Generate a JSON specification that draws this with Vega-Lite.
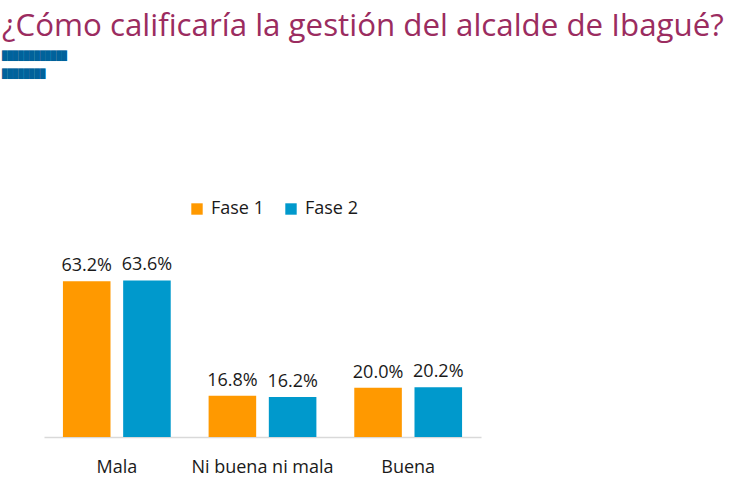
{
  "$schema": "https://vega.github.io/schema/vega-lite/v6.json",
  "width": 437,
  "height": 197,
  "autosize": {"type": "none"},
  "padding": {"left": 44, "top": 240, "right": 258, "bottom": 42},
  "background": "white",
  "view": {"stroke": null},
  "title": {
    "text": "¿Cómo calificaría la gestión del alcalde de Ibagué?",
    "subtitle": ["████████████", "████████"],
    "anchor": "start",
    "frame": "group",
    "dx": -42,
    "font": "Open Sans",
    "fontSize": 31.3,
    "fontWeight": "normal",
    "color": "#9B2C60",
    "subtitleFont": "DejaVu Sans Mono",
    "subtitleFontSize": 9,
    "subtitleColor": "#00629B",
    "subtitleLineHeight": 18,
    "subtitlePadding": 10,
    "offset": 121
  },
  "data": {
    "values": [
      {"cat": "Mala", "fase": "Fase 1", "v": 0.632},
      {"cat": "Mala", "fase": "Fase 2", "v": 0.636},
      {"cat": "Ni buena ni mala", "fase": "Fase 1", "v": 0.168},
      {"cat": "Ni buena ni mala", "fase": "Fase 2", "v": 0.162},
      {"cat": "Buena", "fase": "Fase 1", "v": 0.2},
      {"cat": "Buena", "fase": "Fase 2", "v": 0.202}
    ]
  },
  "encoding": {
    "x": {
      "field": "cat",
      "type": "nominal",
      "sort": ["Mala", "Ni buena ni mala", "Buena"],
      "scale": {"paddingInner": 0.26, "paddingOuter": 0.13},
      "axis": {
        "title": null,
        "labelAngle": 0,
        "ticks": false,
        "domainColor": "#d9d9d9",
        "domainWidth": 1.5,
        "labelFont": "Open Sans",
        "labelFontSize": 18,
        "labelColor": "#1a1a1a",
        "labelPadding": 21
      }
    },
    "xOffset": {
      "field": "fase",
      "type": "nominal",
      "scale": {"paddingInner": 0.21, "paddingOuter": 0}
    },
    "y": {
      "field": "v",
      "type": "quantitative",
      "scale": {"domain": [0, 0.8]},
      "axis": null
    }
  },
  "layer": [
    {
      "mark": {"type": "bar"},
      "encoding": {
        "color": {
          "field": "fase",
          "type": "nominal",
          "scale": {"domain": ["Fase 1", "Fase 2"], "range": ["#FF9900", "#0099CC"]},
          "legend": {
            "title": null,
            "orient": "none",
            "legendX": 144,
            "legendY": -40,
            "direction": "horizontal",
            "symbolType": "square",
            "symbolSize": 130,
            "symbolStrokeWidth": 0,
            "labelFont": "Open Sans",
            "labelFontSize": 18,
            "labelColor": "#1a1a1a",
            "labelOffset": 5,
            "columnPadding": 18
          }
        }
      }
    },
    {
      "mark": {
        "type": "text",
        "baseline": "alphabetic",
        "dy": -10,
        "font": "Open Sans",
        "fontSize": 18,
        "color": "#1a1a1a"
      },
      "encoding": {
        "text": {"field": "v", "type": "quantitative", "format": ".1%"}
      }
    }
  ]
}
